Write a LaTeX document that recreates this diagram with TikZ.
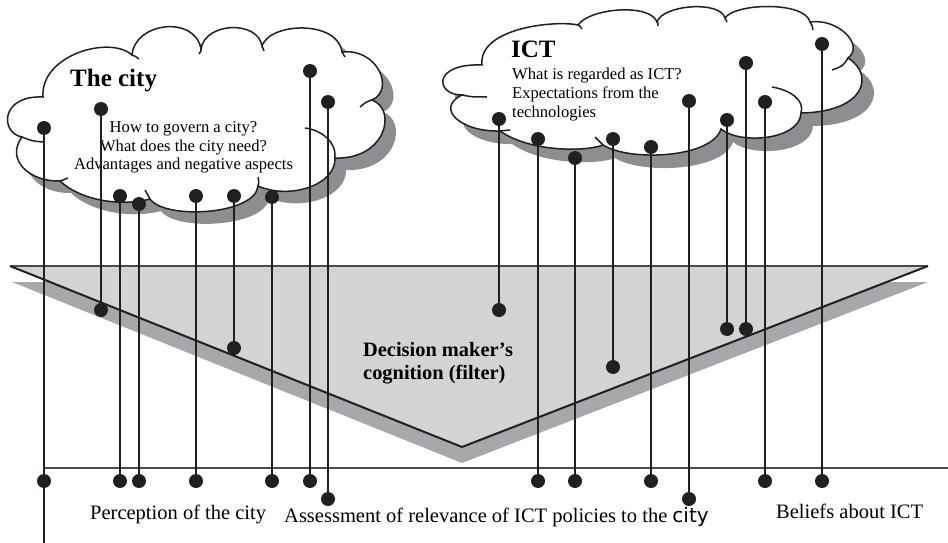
\documentclass[tikz,border=0pt]{standalone}
\usepackage{fontspec}
\setmainfont{Liberation Serif}
\newfontfamily\cityfont{DejaVu Sans}
\definecolor{ink}{HTML}{231F20}
\definecolor{cloudshade}{HTML}{8E8E92}
\definecolor{trifill}{HTML}{D2D3D5}
\definecolor{trishade}{HTML}{A7A8AC}
\definecolor{edgegray}{HTML}{4A4A4C}
\def\citycloud{(22,137) .. controls (0,133) and (0,95) .. (43,97)
  .. controls (40,55) and (110,35) .. (132,55)
  .. controls (135,22) and (195,15) .. (201,49)
  .. controls (205,22) and (258,20) .. (262,46)
  .. controls (270,22) and (338,20) .. (342,52)
  .. controls (378,48) and (395,90) .. (372,100)
  .. controls (398,110) and (385,160) .. (335,158)
  .. controls (336,185) and (290,200) .. (258,186)
  .. controls (255,215) and (165,220) .. (150,199)
  .. controls (120,207) and (80,200) .. (60,181)
  .. controls (30,182) and (5,160) .. (22,137) -- cycle}
\def\ictcloud{(462,95) .. controls (435,95) and (432,63) .. (482,65)
  .. controls (478,28) and (555,20) .. (578,25)
  .. controls (590,8) and (650,3) .. (657,22)
  .. controls (662,5) and (720,0) .. (725,18)
  .. controls (735,3) and (805,1) .. (810,22)
  .. controls (838,18) and (865,45) .. (848,58)
  .. controls (875,75) and (865,112) .. (801,113)
  .. controls (800,140) and (740,145) .. (721,129)
  .. controls (712,158) and (630,162) .. (603,145)
  .. controls (585,152) and (530,152) .. (500,131)
  .. controls (460,132) and (435,108) .. (462,95) -- cycle}
\begin{document}
\begin{tikzpicture}[x=1pt,y=-1pt,
  dot/.style={circle,fill=ink,inner sep=0pt,minimum size=14pt},
  stem/.style={draw=ink,line width=1.3pt},
  cloudline/.style={draw=ink,line width=1.5pt,fill=white},
  hook/.style={draw=ink,line width=1.5pt},
  cshadow/.style={fill=cloudshade},
  ctitle/.style={inner sep=0pt,anchor=base west,font=\fontsize{25}{30}\selectfont\bfseries},
  ctext/.style={inner sep=0pt,font=\fontsize{16.6}{19}\selectfont},
  btext/.style={inner sep=0pt,anchor=base west,font=\fontsize{20.4}{24}\selectfont\bfseries},
  lbl/.style={inner sep=0pt,anchor=base west,font=\fontsize{20.5}{24}\selectfont}]
\useasboundingbox (0,0) rectangle (948,543);
% shadows
\fill[cshadow,shift={(11,12)}] \citycloud;
\fill[cshadow,shift={(12,13)}] \ictcloud;
% filter triangle
\coordinate (tl) at (10,266);
\coordinate (tr) at (928,266);
\coordinate (ta) at (462,447);
\fill[trishade] (12,282) -- (928,282) -- (462,463) -- cycle;
\fill[trifill] (tl) -- (tr) -- (ta) -- cycle;
\draw[edgegray,line width=1.2pt] (tl) -- (tr);
\draw[ink,line width=2pt,line join=miter] (tl) -- (ta) -- (tr);
% clouds
\path[cloudline] \citycloud;
\path[cloudline] \ictcloud;
% city hooks
\draw[hook] (22,137) .. controls (32,141) .. (43,142);
\draw[hook] (132,55) .. controls (135,56) .. (139,59);
\draw[hook] (201,49) .. controls (201,51) .. (199,54);
\draw[hook] (262,46) .. controls (263,48) .. (264,51);
\draw[hook] (342,52) .. controls (343,54) .. (345,57);
\draw[hook] (372,100) .. controls (366,102) .. (360,107);
\draw[hook] (305,128) .. controls (322,130) and (337,143) .. (335,158);
\draw[hook] (258,186) .. controls (259,182) .. (258,177);
\draw[hook] (150,199) .. controls (147,195) .. (145,190);
\draw[hook] (60,181) .. controls (63,180) .. (68,178);
% ict hooks
\draw[hook] (462,95) .. controls (472,97) .. (487,97);
\draw[hook] (578,25) .. controls (580,26) .. (582,29);
\draw[hook] (657,22) .. controls (658,23) .. (658,26);
\draw[hook] (725,18) .. controls (726,20) .. (727,22);
\draw[hook] (810,22) .. controls (812,25) .. (813,30);
\draw[hook] (848,58) .. controls (843,66) .. (832,70);
\draw[hook] (772,87) .. controls (790,90) and (805,100) .. (801,113);
\draw[hook] (603,145) .. controls (599,141) .. (595,137);
\draw[hook] (500,131) .. controls (505,131) .. (510,130);
% texts
\node[ctitle] (citytitle) at (70,87) {The city};
\node[ctext,anchor=base] (c1) at (183.5,132) {How to govern a city?};
\node[ctext,anchor=base] (c2) at (183.5,151) {What does the city need?};
\node[ctext,anchor=base] (c3) at (183.5,169.5) {Advantages and negative aspects};
\node[ctitle] (icttitle) at (511,58) {ICT};
\node[ctext,anchor=base west] (i1) at (512,80) {What is regarded as ICT?};
\node[ctext,anchor=base west] (i2) at (512,99) {Expectations from the};
\node[ctext,anchor=base west] (i3) at (512,117.5) {technologies};
\node[btext] (d1) at (363,356) {Decision maker’s};
\node[btext] (d2) at (363,379) {cognition (filter)};
\node[lbl] (p1) at (90,519) {Perception of the city};
\node[lbl] (p2) at (284,522) {Assessment of relevance of ICT policies to the {\cityfont\fontsize{20}{24}\selectfont city}};
\node[lbl] (p3) at (776,518) {Beliefs about ICT};
% baseline
\coordinate (bl0) at (44,468);
\coordinate (bl1) at (948,468);
\draw[edgegray,line width=1.1pt] (bl0) -- (bl1);
% stems and dots
\coordinate (endA) at (44,543);
\foreach \n/\x/\yt/\yb in {A/44/128/481, B/101/109/310, C/120/196/481, D/139/204/481,
  E/196/196/481, F/234/196/348, G/272/197/481, H/310/71/481, I/328/102/499,
  J/499/119/310, K/538/139/481, L/575/158/481, M/613/139/367, N/651/147/481,
  O/689/101/499, P/727/120/329, Q/746/63/329, R/765/102/481, S/822/44/481}{
  \coordinate (t\n) at (\x,\yt);
  \coordinate (b\n) at (\x,\yb);
  \draw[stem] (t\n) -- (b\n);
}
\draw[stem] (bA) -- (endA);
\foreach \n in {A,B,C,D,E,F,G,H,I,J,K,L,M,N,O,P,Q,R,S}{
  \node[dot] (dt\n) at (t\n) {};
  \node[dot] (db\n) at (b\n) {};
}
\end{tikzpicture}
\end{document}
